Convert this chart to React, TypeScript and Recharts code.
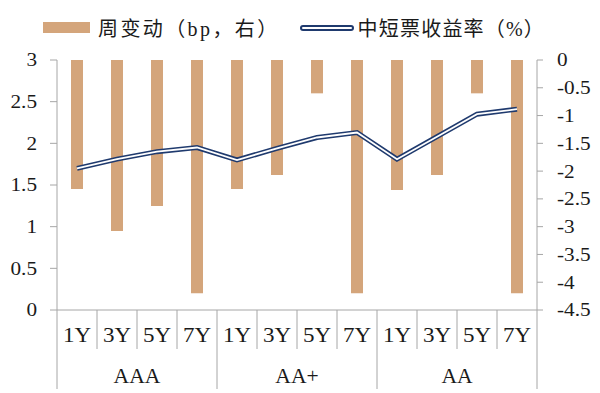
import { Bar, ComposedChart, Line, XAxis, YAxis } from "recharts";

const categories = ["1Y", "3Y", "5Y", "7Y", "1Y", "3Y", "5Y", "7Y", "1Y", "3Y", "5Y", "7Y"];
const groups = ["AAA", "AAA", "AAA", "AAA", "AA+", "AA+", "AA+", "AA+", "AA", "AA", "AA", "AA"];
const weeklyChange = [-2.32, -3.08, -2.63, -4.2, -2.32, -2.07, -0.6, -4.2, -2.34, -2.07, -0.6, -4.2];
const yieldRate = [1.7, 1.81, 1.9, 1.95, 1.8, 1.94, 2.07, 2.13, 1.81, 2.08, 2.35, 2.41];
const leftTicks = [0, 0.5, 1, 1.5, 2, 2.5, 3];
const rightTicks = [0, -0.5, -1, -1.5, -2, -2.5, -3, -3.5, -4, -4.5];

const BAR_COLOR = "#d4a57b";
const LINE_COLOR = "#1f3a6e";
const AXIS_COLOR = "#a6a6a6";
const TEXT_COLOR = "#1a1a1a";
const SERIF = "'Liberation Serif', 'Noto Sans CJK SC', serif";

const data = categories.map((c, i) => ({
    cat: c,
    group: groups[i],
    change: weeklyChange[i],
    rate: yieldRate[i],
}));

// wide serif text, the source picture is stretched a bit horizontally
function WideText({ x, y, anchor, size, sx, children }: any) {
    return (
        <text
            transform={`translate(${x},${y}) scale(${sx},1)`}
            textAnchor={anchor}
            dominantBaseline="central"
            fontSize={size}
            fontFamily={SERIF}
            fill={TEXT_COLOR}
        >
            {children}
        </text>
    );
}

function YTick(props: any) {
    const { x, y, payload, textAnchor } = props;
    return (
        <WideText x={x} y={y} anchor={textAnchor} size={18} sx={1.18}>
            {payload.value}
        </WideText>
    );
}

function CategoryTick(props: any) {
    const { x, y, payload, index } = props;
    const half = payload.offset || 0;
    const left = x - half;
    const right = x + half;
    const isGroupStart = index % 4 === 0;
    const isLast = index === categories.length - 1;
    return (
        <g>
            <line x1={left} y1={y} x2={left} y2={isGroupStart ? y + 79 : y + 39} stroke={AXIS_COLOR} />
            {isLast && <line x1={right} y1={y} x2={right} y2={y + 79} stroke={AXIS_COLOR} />}
            <WideText x={x} y={y + 26} anchor="middle" size={20} sx={1.15}>
                {payload.value}
            </WideText>
        </g>
    );
}

function GroupTick(props: any) {
    const { x, y, payload } = props;
    return (
        <WideText x={x} y={y + 21} anchor="middle" size={20} sx={1.08}>
            {payload.value}
        </WideText>
    );
}

function Legend() {
    return (
        <div
            style={{
                position: "absolute",
                left: 43,
                top: 13,
                display: "flex",
                alignItems: "center",
                fontFamily: SERIF,
                fontSize: 20,
                color: TEXT_COLOR,
                whiteSpace: "nowrap",
            }}
        >
            <span style={{ width: 47, height: 11, background: BAR_COLOR, display: "inline-block", marginRight: 8 }} />
            <span style={{ letterSpacing: 2.4 }}>周变动（bp，右）</span>
            <svg width={54} height={10} style={{ marginLeft: 20, marginRight: 4 }}>
                <line x1={3} y1={5} x2={51} y2={5} stroke={LINE_COLOR} strokeWidth={6} strokeLinecap="round" />
                <line x1={3} y1={5} x2={51} y2={5} stroke="#fff" strokeWidth={2} strokeLinecap="round" />
            </svg>
            <span style={{ letterSpacing: 1.2 }}>中短票收益率（%）</span>
        </div>
    );
}

export default function App() {
    return (
        <div style={{ position: "absolute", left: 0, top: 0, width: 600, height: 393, background: "#fff" }}>
            <Legend />
            <ComposedChart width={600} height={393} data={data} margin={{ top: 60, right: 0, bottom: 0, left: 0 }} barCategoryGap={0}>
                <XAxis
                    dataKey="cat"
                    allowDuplicatedCategory
                    height={45}
                    tickSize={0}
                    tickMargin={0}
                    tickLine={false}
                    stroke={AXIS_COLOR}
                    tick={<CategoryTick />}
                    interval={0}
                />
                <XAxis
                    xAxisId="grp"
                    dataKey="group"
                    allowDuplicatedCategory={false}
                    height={38}
                    tickSize={0}
                    tickMargin={0}
                    tickLine={false}
                    axisLine={false}
                    tick={<GroupTick />}
                    interval={0}
                />
                <YAxis
                    yAxisId="left"
                    domain={[0, 3]}
                    ticks={leftTicks}
                    width={57}
                    stroke={AXIS_COLOR}
                    tickSize={7}
                    tickMargin={13}
                    tick={<YTick />}
                    interval={0}
                />
                <YAxis
                    yAxisId="right"
                    orientation="right"
                    domain={[-4.5, 0]}
                    ticks={rightTicks}
                    width={63}
                    stroke={AXIS_COLOR}
                    tickSize={6}
                    tickMargin={14}
                    tick={<YTick />}
                    interval={0}
                />
                <Bar yAxisId="right" dataKey="change" fill={BAR_COLOR} barSize={12} isAnimationActive={false} />
                <Line yAxisId="left" dataKey="rate" type="linear" stroke={LINE_COLOR} strokeWidth={5} dot={false} isAnimationActive={false} />
                <Line yAxisId="left" dataKey="rate" type="linear" stroke="#fff" strokeWidth={1.8} dot={false} isAnimationActive={false} />
            </ComposedChart>
        </div>
    );
}
